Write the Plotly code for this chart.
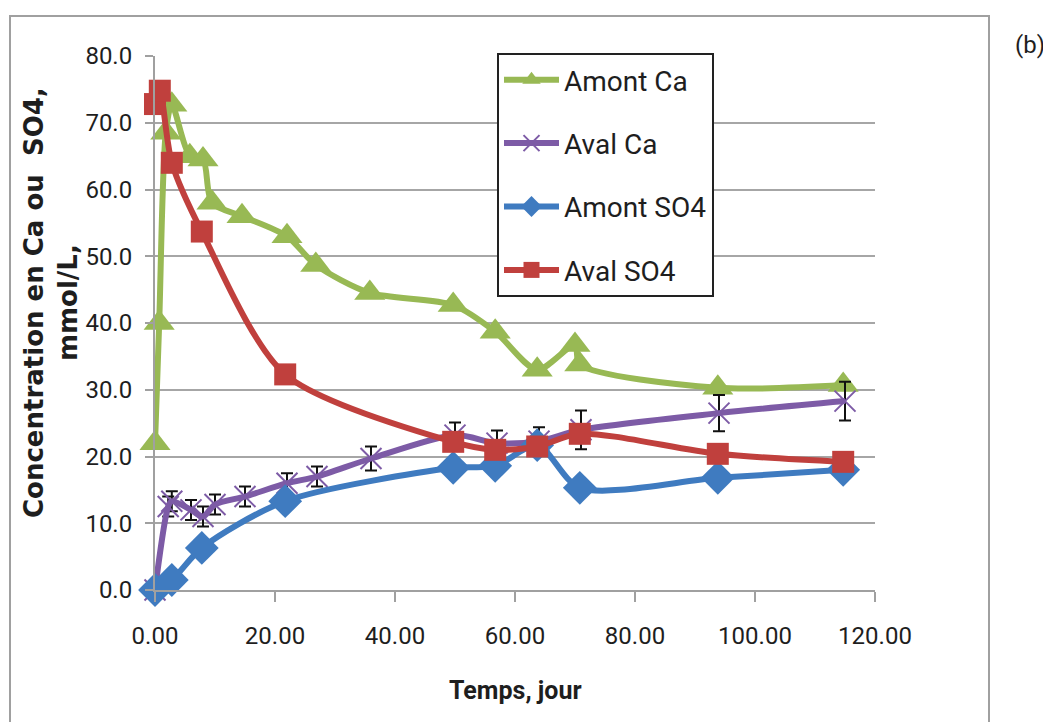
import plotly.graph_objects as go

# ---- data ----
amont_ca_x = [0, 0.7, 1.8, 2.8, 5.8, 8, 9.5, 14.5, 22, 26.8, 35.8, 49.7, 56.7, 63.7, 70, 70.8, 93.8, 114.7]
amont_ca_y = [22, 40, 68.5, 72.7, 65, 64.5, 58, 56, 53, 48.7, 44.5, 42.7, 38.7, 33, 36.7, 33.8, 30.3, 30.7]

aval_ca_x = [0, 2.2, 2.8, 6, 8, 10, 15, 22, 27, 36, 50, 57, 64, 71, 94, 115]
aval_ca_y = [0, 12.5, 13.3, 12, 11, 12.8, 14, 16, 17, 19.7, 23.2, 22, 22.3, 24, 26.5, 28.3]
aval_ca_err = [0, 1.5, 1.5, 1.5, 1.5, 1.5, 1.5, 1.5, 1.5, 1.8, 1.9, 1.9, 2.1, 2.9, 2.7, 2.9]

amont_so4_x = [0, 2.8, 7.8, 21.7, 49.7, 56.7, 63.7, 70.8, 93.8, 114.7]
amont_so4_y = [0, 1.5, 6.3, 13.3, 18.3, 18.6, 21.7, 15.3, 16.8, 18]

aval_so4_x = [0, 0.8, 2.8, 7.8, 21.7, 49.7, 56.7, 63.7, 70.8, 93.8, 114.7]
aval_so4_y = [72.8, 74.8, 64, 53.7, 32.3, 22.2, 21, 21.5, 23.4, 20.4, 19.2]

x_ticks = [0, 20, 40, 60, 80, 100, 120]
y_ticks = [0, 10, 20, 30, 40, 50, 60, 70, 80]

FONT = "Roboto, sans-serif"
GREEN = "#98B954"
PURPLE = "#7D5BA6"
BLUE = "#3F7BC0"
RED = "#C0403D"
TXT = "#1E1E1E"

fig = go.Figure()

fig.add_trace(go.Scatter(
    x=amont_ca_x, y=amont_ca_y, name="Amont Ca", mode="lines+markers",
    line=dict(color=GREEN, width=6, shape="spline", smoothing=0.8),
    marker=dict(symbol="triangle-up", size=27, color=GREEN),
    legendgroup="a", cliponaxis=False))

fig.add_trace(go.Scatter(
    x=aval_ca_x, y=aval_ca_y, name="Aval Ca", mode="lines+markers",
    line=dict(color=PURPLE, width=6, shape="spline", smoothing=0.8),
    marker=dict(symbol="x-thin", size=21, color=PURPLE, line=dict(color=PURPLE, width=2)),
    error_y=dict(type="data", array=aval_ca_err, visible=True, color="#111111", thickness=2, width=6),
    legendgroup="b", cliponaxis=False))

fig.add_trace(go.Scatter(
    x=amont_so4_x, y=amont_so4_y, name="Amont SO4", mode="lines+markers",
    line=dict(color=BLUE, width=6, shape="spline", smoothing=0.8),
    marker=dict(symbol="diamond", size=26, color=BLUE),
    legendgroup="c", cliponaxis=False))

fig.add_trace(go.Scatter(
    x=aval_so4_x, y=aval_so4_y, name="Aval SO4", mode="lines+markers",
    line=dict(color=RED, width=6, shape="spline", smoothing=0.8),
    marker=dict(symbol="square", size=22, color=RED),
    legendgroup="d", cliponaxis=False))

# page is offset by the 8px body margin
OFF = 8
W, H = 1051 - OFF, 722 - OFF
L, T = 155 - OFF, 56 - OFF
R = W - (875 - OFF)
B = H - (590 - OFF)
pw, ph = W - L - R, H - T - B

def px(xp):
    return (xp - OFF - L) / pw

def py(yp):
    return (H - B - (yp - OFF)) / ph

fig.update_layout(
    width=W, height=H,
    margin=dict(l=L, r=R, t=T, b=B),
    paper_bgcolor="white", plot_bgcolor="white",
    font=dict(family=FONT, color=TXT),
    showlegend=True,
    legend=dict(
        x=px(497), y=py(53), xanchor="left", yanchor="top",
        bgcolor="white", bordercolor="#222222", borderwidth=2,
        font=dict(size=28, family=FONT, color=TXT),
        tracegroupgap=24, itemwidth=55,
    ),
    xaxis=dict(
        range=[0, 120], tickvals=x_ticks, ticktext=[f"{v:.2f}" for v in x_ticks],
        showgrid=False, zeroline=False,
        showline=True, linecolor="#A0A0A0", linewidth=2,
        ticks="outside", ticklen=10, tickwidth=2, tickcolor="#A0A0A0",
        tickfont=dict(size=24, family=FONT, color=TXT),
        ticklabelstandoff=13,
    ),
    yaxis=dict(
        range=[0, 80], tickvals=y_ticks, ticktext=[f"{v:.1f}" for v in y_ticks],
        showgrid=True, gridcolor="#A6A6A6", gridwidth=2, zeroline=False,
        showline=True, linecolor="#A0A0A0", linewidth=2,
        ticks="outside", ticklen=8, tickwidth=2, tickcolor="#A0A0A0",
        tickfont=dict(size=24, family=FONT, color=TXT),
        ticklabelstandoff=8,
    ),
    shapes=[dict(type="rect", xref="paper", yref="paper",
                 x0=px(10), x1=px(989), y0=py(760), y1=py(16),
                 line=dict(color="#A0A0A0", width=2), layer="below")],
    annotations=[
        dict(text="<b>Temps, jour</b>", xref="paper", yref="paper",
             x=px(515), y=py(690), xanchor="center", yanchor="middle", showarrow=False,
             font=dict(size=25, family=FONT, color=TXT)),
        dict(text="<b>Concentration en Ca ou  SO4,</b><br><b>mmol/L,</b>",
             xref="paper", yref="paper", x=px(51), y=py(303), textangle=-90,
             xanchor="center", yanchor="middle",
             showarrow=False, align="center",
             font=dict(size=26, family="DejaVu Sans", color=TXT)),
        dict(text="(b)", xref="paper", yref="paper", x=px(1030), y=py(45),
             xanchor="center", yanchor="middle",
             showarrow=False, font=dict(size=24, family=FONT, color=TXT)),
    ],
)

fig.write_html("out.html")
